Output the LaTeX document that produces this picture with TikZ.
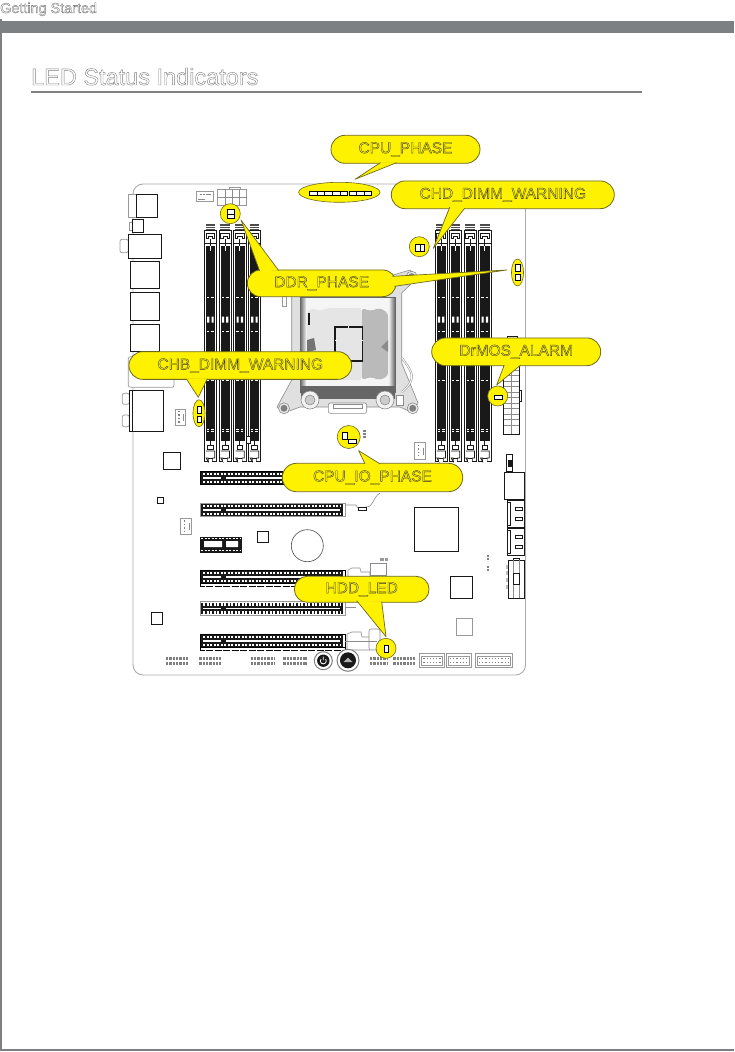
\documentclass[tikz,border=0pt]{standalone}
\usepackage{fontspec}
\setmainfont{Liberation Sans}
\usepackage{tikz}
\usetikzlibrary{calc, shapes.misc, shapes.geometric}

\definecolor{calloutyellow}{HTML}{FFF200}
\definecolor{calloutedge}{HTML}{6E6A1E}
\definecolor{bargray}{HTML}{7D8083}
\definecolor{boardgray}{HTML}{ABABAB}

\newcommand{\outlinetext}[2][0.35]{\special{pdf:code #1 w 1 Tr}#2\special{pdf:code 0 Tr 1 w}}

\begin{document}
\begin{tikzpicture}[
  x=1pt, y=-1pt,
  bubble/.style={rounded rectangle, draw=calloutedge, fill=calloutyellow, line width=0.8pt, inner sep=0pt,
    text=black!80, font=\fontsize{15.5}{15.5}\selectfont},
  tail/.style={draw=calloutedge, fill=calloutyellow, line width=0.7pt, line join=round},
  leddisc/.style={circle, draw=calloutedge, fill=calloutyellow, line width=0.6pt, minimum size=20pt, inner sep=0pt},
  ledoval/.style={ellipse, draw=calloutedge, fill=calloutyellow, line width=0.6pt, inner sep=0pt},
  ledbox/.style={draw=black, fill=white, line width=0.8pt},
  part/.style={draw=black!90, fill=white, line width=0.9pt},
  graypart/.style={draw=black!40, fill=white, line width=0.7pt},
  pinrow/.style={draw=black!50, line width=2.6pt, dash pattern=on 2.4pt off 0.9pt},
  wire/.style={draw=black!45, line width=0.6pt},
]
\useasboundingbox (0,0) rectangle (734,1052);
\fill[white] (0,0) rectangle (734,1052);

\fill[bargray] (0,21) rectangle (734,33);
\fill[bargray] (0,19) rectangle (2,1050);
\fill[bargray] (0,1049) rectangle (734,1051);
\fill[black!50] (31,91) rectangle (642,92.5);
\node[anchor=base west, inner sep=0pt, text=black!55, font=\fontsize{14.4}{14.4}\selectfont] (chapter) at (0,13) {\outlinetext{Getting Started}};
\node[anchor=base west, inner sep=0pt, text=black!50, font=\fontsize{23.5}{23.5}\selectfont] (heading) at (31,85) {\outlinetext[0.4]{LED Status Indicators}};

\draw[boardgray, line width=0.9pt, rounded corners=10pt] (133,184) rectangle (525.5,675);

\draw[graypart] (128,194) rectangle (136.3,217.5);
\draw[part] (136.3,194) rectangle (157.7,217.5);
\draw[graypart] (129,222) rectangle (133,230);
\draw[part] (132.3,219.3) rectangle (143.7,232.3);
\draw[graypart, rounded corners=2pt] (120,239.3) rectangle (128.3,252.7);
\draw[part] (128.3,234.3) rectangle (161.7,258.3);
\draw[part] (130.3,261.3) rectangle (159.7,288.7);
\draw[part] (130.3,292.3) rectangle (159.7,320.3);
\draw[part] (130.3,324.3) rectangle (159.7,351.3);
\draw[graypart, rounded corners=2pt] (128.3,356.7) rectangle (174,387.3);
\draw[graypart, rounded corners=2pt] (122.3,393.3) rectangle (129.3,404.3);
\draw[graypart, rounded corners=2pt] (122.3,415) rectangle (129.3,426.7);
\draw[part] (129.3,390.7) rectangle (163.3,431.7);
\draw[black!90, line width=0.9pt] (132.3,390.7) -- (132.3,431.7);

\draw[graypart] (196.7,191) rectangle (213.3,201);
\draw[pinrow, line width=1.4pt] (199.5,194.5) -- (211,194.5);
\draw[wire] (198,199) -- (205,199);
\draw[graypart] (229.3,187.3) rectangle (240.7,189.3);
\draw[graypart] (217.7,189.3) rectangle (246.7,205.7);
\foreach \x in {225,232,239} \draw[wire] (\x,189.3) -- (\x,205.7);
\draw[wire] (217.7,197.5) -- (246.7,197.5);
\foreach \x/\y in {175/409,180.3/518.3,414.3/442.7} {
  \draw[graypart] (\x,\y) rectangle (\x+10.6,\y+16.5);
  \draw[pinrow, line width=1.3pt, dash pattern=on 1.4pt off 2pt] (\x+4,\y+2) -- (\x+4,\y+15);
  \draw[wire] (\x+8.5,\y+5) -- (\x+8.5,\y+12);
}

\foreach \x in {204.3,219,233.7,248.3,435,449.3,464,478.7} {
  \fill[black!70] (\x+1.2,224) rectangle (\x+10.8,230);
  \draw[white, line width=0.5pt] (\x+1.2,226) -- (\x+10.8,226) (\x+1.2,228) -- (\x+10.8,228);
  \draw[part] (\x,230) rectangle (\x+12.3,461.7);
  \fill[black!90] (\x+1.5,246) rectangle (\x+11,441);
  \draw[black!90, line width=0.7pt] (\x+1.8,233) -- (\x+10.5,233) -- (\x+10.5,238.5) -- (\x+8.3,238.5) -- (\x+8.3,236) -- (\x+4,236) -- (\x+4,238.5) -- (\x+1.8,238.5) -- cycle;
  \draw[black!90, line width=0.7pt] (\x,243) -- (\x+12.3,243) (\x+6.1,238.5) -- (\x+6.1,246);
  \fill[white] (\x+5.6,246) rectangle (\x+6.7,251);
  \foreach \y in {297,331,380,429,431.5} \draw[white, line width=0.7pt] (\x+2.5,\y) -- (\x+5,\y) (\x+7,\y) -- (\x+9.5,\y);
  \fill[white] (\x+2.8,316.5) rectangle (\x+5,322.5) (\x+7.2,316.5) rectangle (\x+9.4,322.5);
  \draw[black!90, line width=0.7pt] (\x+3.5,445) rectangle (\x+9,449) (\x+6.1,441) -- (\x+6.1,445);
  \draw[black!90, line width=0.7pt] (\x+1.8,451) -- (\x+10.5,451) -- (\x+10.5,458) -- (\x+8.3,458) -- (\x+8.3,461.7) (\x+4,461.7) -- (\x+4,458) -- (\x+1.8,458) -- cycle;
  \fill[white] (\x+4.4,458.7) rectangle (\x+7.9,462.2);
  \draw[black!90, line width=0.7pt] (\x+4,458) -- (\x+8.3,458);
}
\draw[part, line width=0.7pt] (246.7,436.7) rectangle (250.7,443.3);

\draw[wire, fill=black!12, line join=round] (277,277) -- (284,270) -- (300,275) -- (393,275) -- (410,270) -- (418,277) -- (401.7,293) -- (401.7,363) -- (418,403) -- (413,413) -- (400,407) -- (300,407) -- (284,413) -- (277,407) -- (291.7,380) -- (291.7,293) -- cycle;
\fill[black!4] (300.5,297) rectangle (395,392);
\shade[left color=black!55, right color=black!8] (300.5,297) rectangle (306,392);
\shade[left color=black!8, right color=black!60] (389,297) rectangle (395,392);
\shade[left color=black!60, middle color=black!8, right color=black!60] (301,386) rectangle (395,398);
\draw[black!60, line width=0.6pt] (300.5,297) rectangle (395,392);
\fill[black!10, rounded corners=3pt] (306.7,313) -- (312,308) -- (320,311) -- (328,308) -- (362,308) -- (362,380) -- (328,380) -- (320,377) -- (312,380) -- (306.7,376) -- cycle;
\fill[black!27, rounded corners=3pt] (362,308) -- (370,311) -- (380,308) -- (388,313) -- (388,376) -- (380,380) -- (370,377) -- (362,380) -- cycle;
\fill[black!55] (307,340) -- (314,338) -- (316,350) -- (307,352) -- cycle;
\fill[black!45] (388,340) -- (381,347) -- (388,352) -- cycle;
\fill[black!90] (308.3,313) rectangle (310,325);
\draw[black!90, fill=black!10, line width=1.6pt] (335,326.7) rectangle (362.3,360.7);
\draw[white, line width=0.7pt] (348,326) -- (348,328) (335,340) -- (337,340) (360.5,340) -- (363,340) (345,360) -- (345,362);
\foreach \x in {310,385} {
  \draw[wire, fill=black!5] (\x,400) circle (9pt);
  \draw[wire, fill=black!20] (\x,400) circle (5pt);
}
\foreach \x/\y in {411.7/276.7,412.7/408.3,284/408.3} {
  \draw[wire, fill=black!8] (\x,\y) circle (5.5pt);
  \fill[black!50] (\x,\y) circle (3.5pt);
}
\draw[wire, fill=white, rounded corners=2pt] (328.3,403) rectangle (366.7,413.3);
\draw[wire] (333,404.5) rectangle (362,408);
\draw[wire, fill=white] (396,395) rectangle (403,405);
\draw[draw=black!45, double=white, line width=0.5pt, double distance=1pt] (402,358) .. controls (412,372) and (418,378) .. (402,392);
\draw[graypart] (282.7,296.7) rectangle (286,306.7);

\foreach \y/\edge in {471/black,503.3/black!40,570/black,601.7/black!40,634/black} {
  \draw[fill=white, draw=\edge, line width=0.8pt] (200,\y) rectangle (345,\y+13.5);
  \fill[black!90] (201,\y+1) rectangle (342.5,\y+12.5);
  \draw[white, line width=2.4pt, dash pattern=on 2.2pt off 1.3pt] (203,\y+2.8) -- (341,\y+2.8) (203,\y+10.7) -- (341,\y+10.7);
  \draw[white, line width=1.6pt] (203,\y+6.7) -- (221,\y+6.7) (226,\y+6.7) -- (340,\y+6.7);
}
\foreach \y in {570,634} \draw[black, line width=0.5pt, fill=white, dash pattern=on 7pt off 1.5pt] (200,\y+13.5) rectangle (345,\y+16);
\draw[part, fill=black!90] (200,537.3) rectangle (241.7,552.3);
\fill[white] (204,541) rectangle (222,547) (226,541) rectangle (238,547);
\draw[white, line width=1.2pt, dash pattern=on 2.2pt off 1.3pt] (201,538.8) -- (241,538.8) (201,550.5) -- (241,550.5);

\draw[wire] (345,505) -- (356,505) -- (358,508) -- (366,507) .. controls (374,507) and (372,498) .. (380,493);
\draw[part, line width=0.7pt] (358,507) rectangle (366,510);
\draw[wire, fill=white] (348,570) -- (352,568) -- (360,568) -- (361,572) -- (370,572) -- (370,577) -- (348,577) -- cycle;
\draw[wire, fill=white] (370,563) rectangle (386.7,575);
\draw[pinrow, line width=2.4pt, dash pattern=on 3.5pt off 1pt, draw=black!40] (380,559.5) -- (389,559.5);
\draw[wire, fill=white] (347,634) -- (352,632) -- (361,632) -- (362,637) -- (370,637) -- (370,650) -- (347,650) -- cycle;
\draw[wire, fill=white, rounded corners=2pt] (369,629) rectangle (380,650);
\draw[wire] (345,641) -- (377,641) (345,607) -- (356,607);

\draw[part] (163.3,452.3) rectangle (180.7,469.7);
\draw[part] (157.3,497.3) rectangle (163.7,503.7);
\draw[part] (257.3,531.3) rectangle (268.7,542.7);
\draw[black!70, line width=0.6pt] (307.3,545.7) circle (16pt);
\draw[part] (151.3,612.3) rectangle (162.7,624.3);
\draw[part] (414.3,507.3) rectangle (458.7,551.7);
\draw[part] (450.3,576.3) rectangle (472.7,598.7);
\draw[graypart] (456.3,618.7) rectangle (472,635.3);

\draw[part] (506.7,454.3) rectangle (512.7,471.7);
\fill[black!90] (508,460) rectangle (511.5,467);
\draw[part] (504.3,472.3) rectangle (524.3,499.3);
\foreach \y in {500,528.3} {
  \draw[part] (507.3,\y) rectangle (524.3,\y+27.3);
  \draw[part, line width=0.7pt] (507.3,\y+2.5) rectangle (510.7,\y+25);
  \draw[part, line width=0.7pt] (515.7,\y+7) rectangle (522.7,\y+10.5);
  \draw[part, line width=0.7pt] (515.7,\y+17) rectangle (522.7,\y+20.5);
}
\foreach \y in {565,571,578,585} \fill[black!25] (505.7,\y) rectangle (508.3,\y+4);
\draw[part, line width=0.7pt] (513.3,558) rectangle (519.3,560.3);
\draw[part] (508.3,560.3) rectangle (524.3,598.3);
\draw[wire] (513.3,560.3) -- (513.3,598.3) (519.3,560.3) -- (519.3,598.3);
\draw[part, line width=0.7pt] (513.3,573.3) rectangle (519.3,584.3);
\draw[pinrow, line width=2pt, dash pattern=on 2.2pt off 0.8pt] (487.5,555) -- (487.5,561) (487.5,566) -- (487.5,572);
\draw[pinrow, line width=2.4pt, dash pattern=on 2.2pt off 0.9pt] (364.5,429.5) -- (364.5,437.5);

\draw[part, line width=0.7pt] (507.7,336.7) rectangle (517,340);
\draw[part] (503.7,338) rectangle (519.3,434);
\foreach \y in {370,375.5,381,386.5,392,397.5,403,408.5,414,419.5,425} \draw[wire] (503.7,\y) -- (519.3,\y);
\draw[wire] (511.5,365) -- (511.5,434);
\draw[part, line width=0.7pt] (519.3,390) rectangle (521.7,401.7);

\foreach \xa/\xb in {166/188,199.3/220.7,250.7/274.3,283.3/307,370/387.7,393.3/415} {
  \draw[pinrow] (\xa,658.7) -- (\xb,658.7);
  \draw[pinrow] (\xa,663.3) -- (\xb,663.3);
}
\draw[black!50, fill=white, line width=1pt] (323.3,660.7) circle (9pt);
\fill[black!90] (323.3,660.7) circle (6.2pt);
\draw[white, line width=0.8pt] (321,659) arc[start angle=140, end angle=400, radius=3pt] (323.3,656.5) -- (323.3,660);
\draw[black!50, fill=white, line width=1pt] (348,660.3) circle (11pt);
\fill[black!90] (348,660.3) circle (8pt);
\fill[white!70!black] (343.5,662) -- (348,657.5) -- (352.5,662) -- cycle;
\foreach \xa/\xb in {419.3/444.3,446/471,475/512.3} {
  \draw[graypart] (\xa,653.3) rectangle (\xb,667.7);
  \draw[graypart, fill=none] (\xa+2,656) rectangle (\xb-2,665);
  \draw[black!50, line width=1.1pt, dash pattern=on 1.2pt off 2pt] (\xa+4,658.5) -- (\xb-3,658.5) (\xa+4,662.5) -- (\xb-3,662.5);
}

\node[ellipse, draw=calloutedge, fill=calloutyellow, line width=0.6pt, minimum width=81.3pt, minimum height=20pt, inner sep=0pt] (cpuled) at (339.3,192.3) {};
\node[leddisc] (ddrled) at (230.3,213.7) {};
\node[leddisc] (chdled) at (419.3,246.7) {};
\node[ledoval, minimum width=12pt, minimum height=27pt] (ddrled2) at (517.5,272.5) {};
\node[ledoval, minimum width=12pt, minimum height=27pt] (chbled) at (199,413.3) {};
\node[leddisc, minimum size=23pt] (ioled) at (348.7,437) {};
\node[leddisc] (drmosled) at (497.7,396) {};
\node[leddisc] (hddled) at (386,648.3) {};

\foreach \x in {309.3,317,324.7,332.3,340} \draw[ledbox] (\x,191.3) rectangle (\x+7.7,195.7);
\foreach \x in {349.2,356.7,364.2} \draw[ledbox] (\x,191.3) rectangle (\x+7.5,195.7);
\draw[ledbox] (227.3,209.7) rectangle (234.7,214.2);
\draw[ledbox] (227.3,214.2) rectangle (234.7,218.7);
\draw[ledbox] (415.7,244.3) rectangle (420,251.3);
\draw[ledbox] (420,244.3) rectangle (424.3,251.3);
\draw[ledbox] (515.3,264.3) rectangle (520,271);
\draw[ledbox] (515.3,274) rectangle (520,280.7);
\draw[ledbox] (197.3,406.3) rectangle (201,413.3);
\draw[ledbox] (197.3,416.3) rectangle (201,422.7);
\draw[ledbox] (342.3,432.3) rectangle (347,439.7);
\draw[ledbox] (348.7,439.7) rectangle (356,443);
\draw[ledbox] (494.3,395.3) rectangle (502,399.3);
\draw[ledbox] (384.3,645) rectangle (388,652.7);

\coordinate (cputip) at (355,179.3);
\coordinate (ddrtip) at (241,220);
\coordinate (ddrtip2) at (506.7,270);
\coordinate (chdtip) at (433.3,248.3);
\coordinate (chbtip) at (198.3,397.3);
\coordinate (drmostip) at (496.7,385);
\coordinate (iotip) at (358.7,450.7);
\coordinate (hddtip) at (386,636.7);

\node[bubble, minimum width=149pt, minimum height=28pt] (cpubub) at (405.5,149.3) {\outlinetext{CPU\_PHASE}};
\node[bubble, minimum width=223pt, minimum height=27.7pt] (chdbub) at (502.8,194.8) {\outlinetext{CHD\_DIMM\_WARNING}};
\node[bubble, minimum width=148.7pt, minimum height=26.7pt] (ddrbub) at (321.7,283.3) {\outlinetext{DDR\_PHASE}};
\node[bubble, minimum width=222.7pt, minimum height=27.7pt] (chbbub) at (240.3,365.5) {\outlinetext{CHB\_DIMM\_WARNING}};
\node[bubble, minimum width=169pt, minimum height=27.7pt] (drmosbub) at (516.2,351.8) {\outlinetext{DrMOS\_ALARM}};
\node[bubble, minimum width=180.4pt, minimum height=28.4pt] (iobub) at (372.5,477.5) {\outlinetext{CPU\_IO\_PHASE}};
\node[bubble, minimum width=134.7pt, minimum height=26pt] (hddbub) at (361.7,589.3) {\outlinetext{HDD\_LED}};

\draw[tail] ($(cpubub.south)+(-25,-1)$) -- (cputip) -- ($(cpubub.south)+(-9,-1)$);
\draw[tail] ($(chdbub.south)+(-53,-2)$) -- (chdtip) -- ($(chdbub.south)+(-38,-1)$);
\draw[tail] ($(ddrbub.north)+(-62,1.5)$) -- (ddrtip) -- ($(ddrbub.north)+(-43,1)$);
\draw[tail] ($(ddrbub.east)+(-4,-7)$) -- (ddrtip2) -- ($(ddrbub.east)+(-2,3)$);
\draw[tail] ($(chbbub.south)+(-54,-1)$) -- (chbtip) -- ($(chbbub.south)+(-33,-1)$);
\draw[tail] ($(drmosbub.south)+(-12,-1)$) -- (drmostip) -- ($(drmosbub.south)+(4.5,-1)$);
\draw[tail] ($(iobub.north)+(-7.5,1)$) -- (iotip) -- ($(iobub.north)+(7.5,1)$);
\draw[tail] ($(hddbub.south)+(-5,-2)$) -- (hddtip) -- ($(hddbub.south)+(20,-1)$);
\end{tikzpicture}
\end{document}
